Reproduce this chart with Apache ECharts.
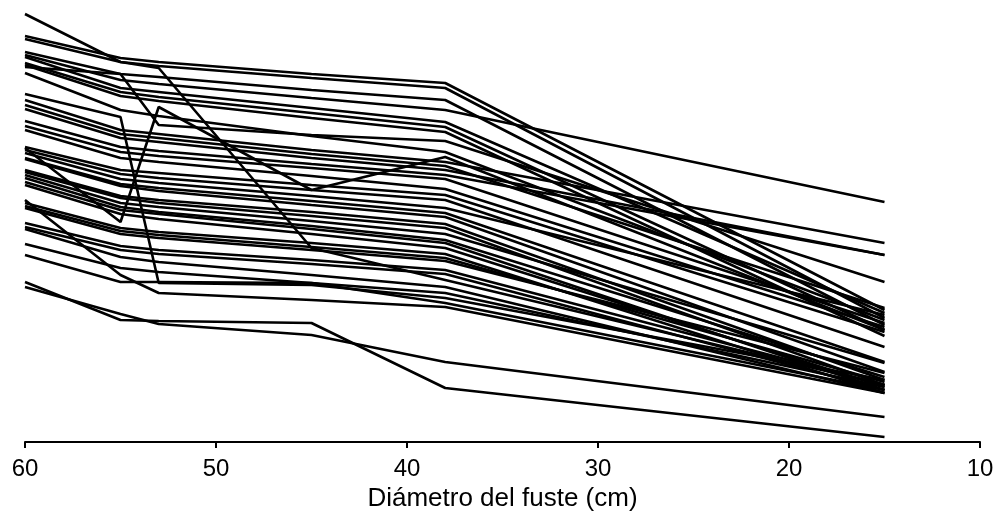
<!DOCTYPE html>
<html>
<head>
<meta charset="utf-8">
<script src="https://cdn.jsdelivr.net/npm/echarts@6/dist/echarts.min.js"></script>
<style>
  html, body { margin: 0; padding: 0; background: #fff; }
  #chart { width: 997px; height: 512px; }
</style>
</head>
<body>
<div id="chart"></div>
<script>
// Diámetros del fuste (cm) donde se midió cada perfil
const diametros = [60, 55, 53, 45, 38, 15];

// Valores de cada árbol en los diámetros anteriores (unidades relativas)
const arbol01 = [406, 384, 380, 368, 359, 132];
const arbol02 = [403, 380, 376, 364, 354, 124];
const arbol03 = [390, 368, 365, 352, 342, 117];
const arbol04 = [387, 362, 358, 344, 332, 240];
const arbol05 = [385, 354, 350, 334, 320, 129];
const arbol06 = [379, 350, 345, 329, 315, 112];
const arbol07 = [377, 346, 341, 324, 310, 106];
const arbol08 = [369, 332, 326, 306, 290, 122];
const arbol09 = [342, 312, 308, 292, 280, 199];
const arbol10 = [337, 308, 304, 288, 276, 134];
const arbol11 = [333, 304, 300, 284, 272, 187];
const arbol12 = [321, 295, 291, 278, 267, 187];
const arbol13 = [316, 290, 286, 274, 263, 119];
const arbol14 = [312, 284, 280, 266, 253, 115];
const arbol15 = [295, 272, 269, 257, 247, 110];
const arbol16 = [292, 268, 264, 252, 242, 95];
const arbol17 = [289, 263, 259, 246, 234, 127];
const arbol18 = [284, 258, 254, 241, 229, 80];
const arbol19 = [283, 256, 251, 237, 225, 70];
const arbol20 = [272, 246, 242, 230, 218, 62];
const arbol21 = [270, 244, 239, 226, 214, 57];
const arbol22 = [267, 239, 235, 221, 208, 79];
const arbol23 = [264, 235, 230, 216, 202, 65];
const arbol24 = [260, 232, 228, 213, 199, 52];
const arbol25 = [257, 228, 223, 208, 194, 55];
const arbol26 = [239, 214, 210, 199, 188, 49];
const arbol27 = [236, 211, 207, 195, 184, 60];
const arbol28 = [234, 208, 204, 192, 181, 69];
const arbol29 = [219, 196, 192, 182, 172, 57];
const arbol30 = [215, 192, 188, 178, 168, 52];
const arbol31 = [213, 185, 180, 167, 155, 49];
const arbol32 = [198, 174, 170, 159, 149, 55];
const arbol33 = [187, 160, 160, 159, 139, 52];
const arbol34 = [428, 380, 374, 194, 162, 57];
const arbol35 = [375, 368, 317, 307, 301, 160];
const arbol36 = [348, 325, 159, 157, 144, 62];
const arbol37 = [294, 220, 335, 252, 285, 112];
const arbol38 = [242, 167, 149, 142, 135, 49];
const arbol39 = [160, 122, 121, 119, 54, 5];
const arbol40 = [155, 128, 118, 107, 80, 25];

const arboles = [
  arbol01, arbol02, arbol03, arbol04, arbol05, arbol06, arbol07, arbol08,
  arbol09, arbol10, arbol11, arbol12, arbol13, arbol14, arbol15, arbol16,
  arbol17, arbol18, arbol19, arbol20, arbol21, arbol22, arbol23, arbol24,
  arbol25, arbol26, arbol27, arbol28, arbol29, arbol30, arbol31, arbol32,
  arbol33, arbol34, arbol35, arbol36, arbol37, arbol38, arbol39, arbol40
];

// Etiquetas del eje X
const marcasX = [60, 50, 40, 30, 20, 10];

const fuente = '"Liberation Sans", Arial, sans-serif';

const series = arboles.map((valores, i) => ({
  name: 'Árbol ' + (i + 1),
  type: 'line',
  data: diametros.map((d, j) => [d, valores[j]]),
  showSymbol: false,
  symbol: 'none',
  lineStyle: { color: '#000', width: 2.6 },
  emphasis: { disabled: true },
  silent: true
}));

const chart = echarts.init(document.getElementById('chart'), null, { renderer: 'canvas' });
chart.setOption({
  animation: false,
  backgroundColor: '#fff',
  grid: {
    left: 25, right: 17, top: 0, bottom: 70,
    containLabel: false,
    outerBoundsMode: 'none'
  },
  xAxis: {
    type: 'value',
    inverse: true,
    min: 10,
    max: 60,
    interval: 10,
    axisLine: { show: true, lineStyle: { color: '#000', width: 2 } },
    axisTick: { show: true, length: 6, lineStyle: { color: '#000', width: 2 } },
    axisLabel: {
      color: '#000',
      fontSize: 24,
      fontFamily: fuente,
      margin: 15,
      formatter: v => (marcasX.includes(v) ? String(v) : '')
    },
    splitLine: { show: false },
    name: 'Diámetro del fuste (cm)',
    nameLocation: 'middle',
    nameGap: 41,
    nameTextStyle: { color: '#000', fontSize: 26, fontFamily: fuente }
  },
  yAxis: {
    type: 'value',
    min: 0,
    max: 442,
    show: false,
    splitLine: { show: false }
  },
  series: series
});
</script>
</body>
</html>
